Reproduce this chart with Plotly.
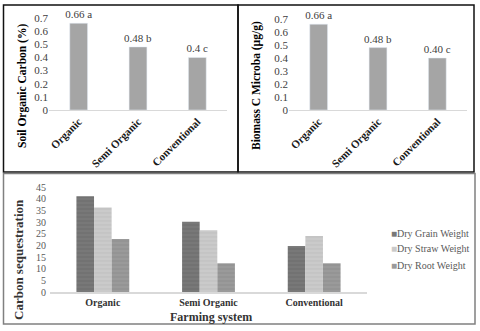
import plotly.graph_objects as go

W, H = 480, 331

systems = ["Organic", "Semi Organic", "Conventional"]
soc_values = [0.66, 0.48, 0.40]
soc_labels = ["0.66 a", "0.48 b", "0.4 c"]
mbc_values = [0.66, 0.48, 0.40]
mbc_labels = ["0.66 a", "0.48 b", "0.40 c"]
grain_weight = [41.0, 30.1, 19.7]
straw_weight = [36.2, 26.5, 24.0]
root_weight = [22.7, 12.3, 12.3]
top_ticks = [0, 0.1, 0.2, 0.3, 0.4, 0.5, 0.6, 0.7]
bottom_ticks = [0, 5, 10, 15, 20, 25, 30, 35, 40, 45]

SERIF = "Liberation Serif, Times New Roman, serif"

def px(x):
    return x / W

def py(y):
    return 1 - y / H

fig = go.Figure()

for vals, labs, xa, ya in [(soc_values, soc_labels, "x", "y"), (mbc_values, mbc_labels, "x2", "y2")]:
    fig.add_trace(go.Bar(x=systems, y=vals, text=labs, textposition="outside",
                         marker=dict(color="#a5a5a5"), width=0.3, cliponaxis=False,
                         constraintext="none",
                         textfont=dict(family=SERIF, size=11, color="#404040"),
                         xaxis=xa, yaxis=ya, showlegend=False, hoverinfo="skip"))

series = [("Dry Grain Weight", grain_weight, "#787878", "#626262"),
          ("Dry Straw Weight", straw_weight, "#cacaca", "#b8b8b8"),
          ("Dry Root Weight", root_weight, "#9a9a9a", "#868686")]
for name, vals, col, fg in series:
    fig.add_trace(go.Bar(x=systems, y=vals, name=name, xaxis="x3", yaxis="y3", showlegend=False,
                         hoverinfo="skip",
                         marker=dict(color=col, line=dict(width=0),
                                     pattern=dict(shape="-", fgcolor=fg, size=4, solidity=0.3))))

tick_font = dict(family=SERIF, size=11, color="#404040")
cat_font = dict(family=SERIF, size=11, color="#1a1a1a", weight="bold")

fig.update_layout(
    width=W, height=H,
    margin=dict(l=0, r=0, t=0, b=0),
    paper_bgcolor="white", plot_bgcolor="white",
    barmode="group", bargap=0.5, bargroupgap=0,
    font=dict(family=SERIF),
    showlegend=False,
    xaxis=dict(domain=[px(49), px(227)], anchor="y", showline=True, linecolor="#d9d9d9",
               linewidth=1, ticks="", tickangle=-45, tickfont=cat_font, showgrid=False,
               automargin=False),
    yaxis=dict(domain=[py(110), py(18)], anchor="x", range=[0, 0.7], tickvals=top_ticks,
               ticktext=[f"{v:g}" for v in top_ticks], tickfont=tick_font, showgrid=False,
               zeroline=False, showline=False, automargin=False),
    xaxis2=dict(domain=[px(289), px(467)], anchor="y2", showline=True, linecolor="#d9d9d9",
                linewidth=1, ticks="", tickangle=-45, tickfont=cat_font, showgrid=False,
                automargin=False),
    yaxis2=dict(domain=[py(110), py(19)], anchor="x2", range=[0, 0.7], tickvals=top_ticks,
                ticktext=[f"{v:g}" for v in top_ticks], tickfont=tick_font, showgrid=False,
                zeroline=False, showline=False, automargin=False),
    xaxis3=dict(domain=[px(50), px(367)], anchor="y3", showline=True, linecolor="#d9d9d9",
                linewidth=1.5, ticks="", tickfont=dict(family=SERIF, size=10, color="#333333", weight="bold"),
                showgrid=False, automargin=False),
    yaxis3=dict(domain=[py(292), py(187)], anchor="x3", range=[0, 45], tickvals=bottom_ticks,
                tickfont=dict(family=SERIF, size=10, color="#595959"), showgrid=False,
                zeroline=False, showline=False, ticklabelstandoff=3, automargin=False),
)

anns = [
    dict(text="<b>Soil Organic Carbon (%)</b>", x=px(22), y=py(86), textangle=-90,
         font=dict(family=SERIF, size=11.5, color="#000000")),
    dict(text="<b>Biomass C Microba (µg/g)</b>", x=px(256), y=py(86), textangle=-90,
         font=dict(family=SERIF, size=11.5, color="#000000")),
    dict(text="<b>Carbon sequestration</b>", x=px(18), y=py(260), textangle=-90,
         font=dict(family=SERIF, size=13, color="#333333")),
    dict(text="<b>Farming system</b>", x=px(211), y=py(317),
         font=dict(family=SERIF, size=12, color="#333333")),
]
for a in anns:
    fig.add_annotation(xref="paper", yref="paper", showarrow=False,
                       xanchor="center", yanchor="middle", **a)

# legend entries (drawn as text keys)
legend_y = [233, 249, 265.5]
for (name, vals, col, fg), ly in zip(series, legend_y):
    fig.add_annotation(xref="paper", yref="paper", showarrow=False, xanchor="left", yanchor="middle",
                       x=px(389), y=py(ly),
                       text=f"<span style='color:{col}'>■</span>{name}",
                       font=dict(family=SERIF, size=10, color="#595959"))

fig.add_shape(type="rect", xref="paper", yref="paper", x0=px(3.5), x1=px(238), y0=py(172), y1=py(5),
              line=dict(color="#111111", width=1.5))
fig.add_shape(type="rect", xref="paper", yref="paper", x0=px(238), x1=px(474), y0=py(172), y1=py(5),
              line=dict(color="#111111", width=1.5))
fig.add_shape(type="rect", xref="paper", yref="paper", x0=px(3.5), x1=px(475), y0=py(324), y1=py(173.5),
              line=dict(color="#808080", width=1.5))

fig.write_html("out.html", config={"displayModeBar": False, "staticPlot": True},
               post_script="document.body.style.margin='0';document.body.style.overflow='hidden';")
